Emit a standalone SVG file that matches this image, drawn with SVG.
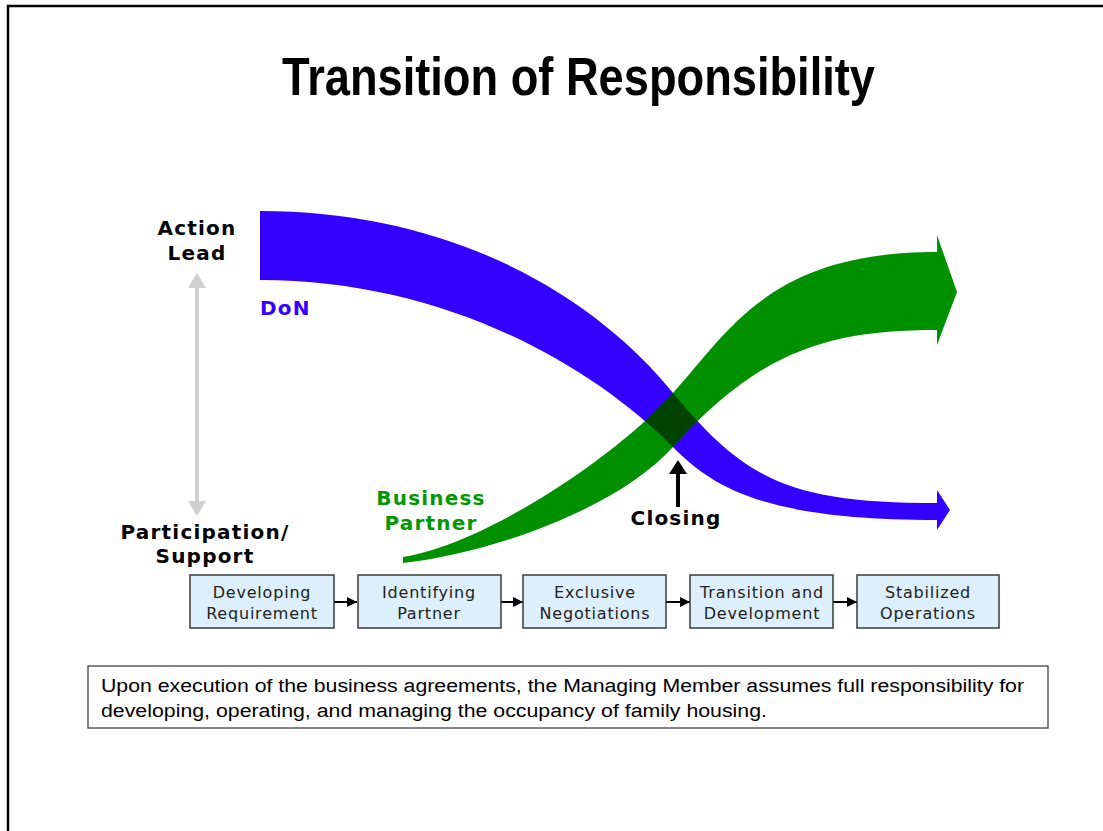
<svg xmlns="http://www.w3.org/2000/svg" width="1103" height="831" viewBox="0 0 1103 831">
<style>
.lbl{font-family:"DejaVu Sans",Verdana,sans-serif;font-weight:bold;font-size:20px;letter-spacing:1.2px}
.box{fill:#DCEFFB;stroke:#3a3a3a;stroke-width:1.5}
.bt{font-family:"DejaVu Sans",Verdana,sans-serif;font-size:16px;letter-spacing:0.8px;fill:#222;text-anchor:middle}
.conn{stroke:#000;stroke-width:2;fill:none}
.body{font-family:"Liberation Sans",Arial,sans-serif;font-size:18px;fill:#000}
</style>
<defs>
<marker id="ah" viewBox="0 0 10 10" refX="10" refY="5" markerWidth="5" markerHeight="5" orient="auto">
<path d="M0,0 L10,5 L0,10 Z" fill="#000"/>
</marker>
<clipPath id="blueClip">
<path d="M260,211 C460,211 600,302 673,393 C745,480 790,503 937,503 L937,490 L950,510 L937,530 L937,520 C770,520 715,490 673,447 C587,361 440,280 260,280 Z"/>
</clipPath>
</defs>
<rect x="0" y="0" width="1103" height="831" fill="#fff"/>
<path d="M8,831 V6 H1103" fill="none" stroke="#000" stroke-width="2.5"/>
<text id="title" x="282" y="95" textLength="593" lengthAdjust="spacingAndGlyphs" font-family="'Liberation Sans',Arial,sans-serif" font-size="53" font-weight="bold" fill="#000">Transition of Responsibility</text>

<g id="axis">
<line x1="197" y1="286" x2="197" y2="503" stroke="#d0d0d0" stroke-width="4"/>
<path d="M197,273 L206,288 L188,288 Z" fill="#d0d0d0"/>
<path d="M197,516 L206,501 L188,501 Z" fill="#d0d0d0"/>
<text class="lbl" x="197" y="235" text-anchor="middle" fill="#000">Action</text>
<text class="lbl" x="197" y="260" text-anchor="middle" fill="#000">Lead</text>
<text class="lbl" x="205" y="539" text-anchor="middle" fill="#000">Participation/</text>
<text class="lbl" x="205" y="563" text-anchor="middle" fill="#000">Support</text>
</g>

<g id="don">
<path d="M260,211 C460,211 600,302 673,393 C745,480 790,503 937,503 L937,490 L950,510 L937,530 L937,520 C770,520 715,490 673,447 C587,361 440,280 260,280 Z" fill="#3300FF"/>
<text class="lbl" x="260" y="315" fill="#3300FF">DoN</text>
</g>

<g id="partner">
<path id="gp" d="M403,557 C480,545 610,463 673,393 C730,330 770,252 937,252 L937,235 L957,292 L937,345 L937,330 C830,330 760,350 673,447 C613,513 480,555 403,563 Z" fill="#009000"/>
<path d="M403,557 C480,545 610,463 673,393 C730,330 770,252 937,252 L937,235 L957,292 L937,345 L937,330 C830,330 760,350 673,447 C613,513 480,555 403,563 Z" fill="#004400" clip-path="url(#blueClip)"/>
<text class="lbl" x="431" y="505" text-anchor="middle" fill="#009900">Business</text>
<text class="lbl" x="431" y="530" text-anchor="middle" fill="#009900">Partner</text>
</g>

<g id="closing">
<line x1="678" y1="507" x2="678" y2="470" stroke="#000" stroke-width="4"/>
<path d="M678,460 L687,474 L669,474 Z" fill="#000"/>
<text class="lbl" x="676" y="525" text-anchor="middle" fill="#000">Closing</text>
</g>

<g id="connectors">
<line class="conn" x1="334" y1="602" x2="357" y2="602" marker-end="url(#ah)"/>
<line class="conn" x1="501" y1="602" x2="523" y2="602" marker-end="url(#ah)"/>
<line class="conn" x1="666" y1="602" x2="690" y2="602" marker-end="url(#ah)"/>
<line class="conn" x1="833" y1="602" x2="857" y2="602" marker-end="url(#ah)"/>
</g>

<g id="step1">
<rect class="box" x="190" y="575" width="144" height="53"/>
<text class="bt" x="262" y="598">Developing</text>
<text class="bt" x="262" y="619">Requirement</text>
</g>
<g id="step2">
<rect class="box" x="358" y="575" width="143" height="53"/>
<text class="bt" x="429" y="598">Identifying</text>
<text class="bt" x="429" y="619">Partner</text>
</g>
<g id="step3">
<rect class="box" x="523" y="575" width="143" height="53"/>
<text class="bt" x="595" y="598">Exclusive</text>
<text class="bt" x="595" y="619">Negotiations</text>
</g>
<g id="step4">
<rect class="box" x="690" y="575" width="143" height="53"/>
<text class="bt" x="762" y="598">Transition and</text>
<text class="bt" x="762" y="619">Development</text>
</g>
<g id="step5">
<rect class="box" x="857" y="575" width="142" height="53"/>
<text class="bt" x="928" y="598">Stabilized</text>
<text class="bt" x="928" y="619">Operations</text>
</g>

<g id="note">
<rect x="88" y="666" width="960" height="62" fill="#fff" stroke="#333" stroke-width="1.2"/>
<text class="body" x="101" y="692" textLength="923" lengthAdjust="spacingAndGlyphs">Upon execution of the business agreements, the Managing Member assumes full responsibility for</text>
<text class="body" x="101" y="717" textLength="666" lengthAdjust="spacingAndGlyphs">developing, operating, and managing the occupancy of family housing.</text>
</g>
</svg>
